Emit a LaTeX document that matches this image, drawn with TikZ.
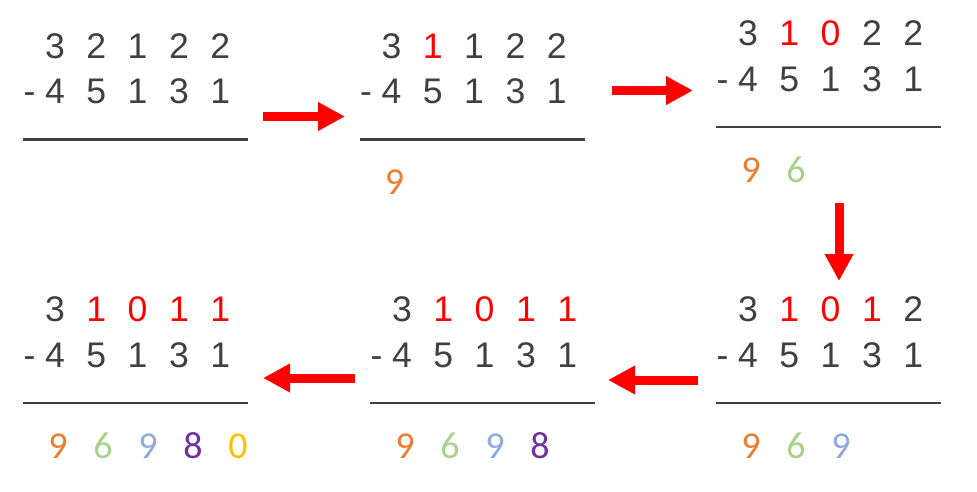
\documentclass[tikz,border=0pt]{standalone}
\usepackage{fontspec}
\setmainfont{Liberation Sans}
\newfontfamily\resfont{Carlito}
\usetikzlibrary{arrows.meta}
\definecolor{dg}{HTML}{404040}
\definecolor{rorange}{HTML}{ED7D31}
\definecolor{rgreen}{HTML}{A9D18E}
\definecolor{rblue}{HTML}{8FAADC}
\definecolor{rpurple}{HTML}{7030A0}
\definecolor{ryellow}{HTML}{FFC000}
\definecolor{rred}{HTML}{FF0000}
\tikzset{
  dig/.style={anchor=base,inner sep=0pt,font=\fontsize{35.6}{40}\selectfont,text=dg},
  res/.style={anchor=base,inner sep=0pt,font=\resfont\fontsize{38}{42}\selectfont},
  rule/.style={draw=dg,line width=2.5pt},
  bigarrow/.style={draw=rred,line width=9pt,-{Triangle[length=27pt,width=27pt]}}
}
\newcommand\subblock[4]{%
  \foreach \c/\d [count=\i] in {#4} {
    \node[dig,text=\c] (#1t\i) at ({#2+55+41.3*(\i-1)},{#3-81.5}) {\d};
  }
  \node[dig] (#1m) at ({#2+29.5},{#3-36}) {-};
  \foreach \d [count=\i] in {4,5,1,3,1} {
    \node[dig] (#1b\i) at ({#2+55+41.3*(\i-1)},{#3-36}) {\d};
  }
  \coordinate (#1L) at ({#2+23},#3);
  \coordinate (#1R) at ({#2+248},#3);
  \draw[rule] (#1L) -- (#1R);
}
\newcommand\results[4]{%
  \foreach \c/\d [count=\i] in {#4} {
    \node[res,text=\c] (#1s\i) at ({#2+58+45*(\i-1)},{#3+55}) {\d};
  }
}
\begin{document}
\begin{tikzpicture}[x=1pt,y=-1pt]
\useasboundingbox[fill=white] (0,0) rectangle (977,491);
% top row
\subblock{A}{0}{139.5}{dg/3,dg/2,dg/1,dg/2,dg/2}
\subblock{B}{336.5}{139.5}{dg/3,rred/1,dg/1,dg/2,dg/2}
\results{B}{336.5}{139.5}{rorange/9}
\subblock{C}{693}{127}{dg/3,rred/1,rred/0,dg/2,dg/2}
\results{C}{693}{127}{rorange/9,rgreen/6}
% bottom row
\subblock{D}{693}{403}{dg/3,rred/1,rred/0,rred/1,dg/2}
\results{D}{693}{403}{rorange/9,rgreen/6,rblue/9}
\subblock{E}{347}{403}{dg/3,rred/1,rred/0,rred/1,rred/1}
\results{E}{347}{403}{rorange/9,rgreen/6,rblue/9,rpurple/8}
\subblock{F}{0}{403}{dg/3,rred/1,rred/0,rred/1,rred/1}
\results{F}{0}{403}{rorange/9,rgreen/6,rblue/9,rpurple/8,ryellow/0}
% arrows
\coordinate (a1s) at (263,116.5); \coordinate (a1e) at (345,116.5);
\coordinate (a2s) at (612,90.5);  \coordinate (a2e) at (693,90.5);
\coordinate (a3s) at (839,203);   \coordinate (a3e) at (839,281);
\coordinate (a4s) at (698,380);   \coordinate (a4e) at (608,380);
\coordinate (a5s) at (355,378);   \coordinate (a5e) at (263,378);
\draw[bigarrow] (a1s) -- (a1e);
\draw[bigarrow] (a2s) -- (a2e);
\draw[bigarrow] (a3s) -- (a3e);
\draw[bigarrow] (a4s) -- (a4e);
\draw[bigarrow] (a5s) -- (a5e);
\end{tikzpicture}
\end{document}
